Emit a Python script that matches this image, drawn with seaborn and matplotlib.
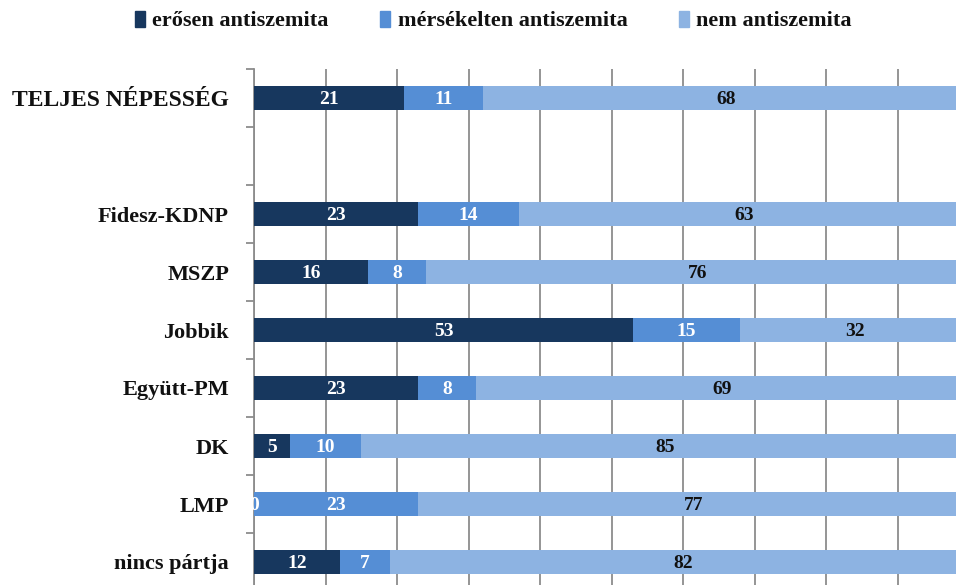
import pandas as pd
import seaborn as sns
import matplotlib.pyplot as plt
from matplotlib.patches import Patch

# Data (percent)
categories = ["TELJES NÉPESSÉG", " ", "Fidesz-KDNP", "MSZP", "Jobbik",
              "Együtt-PM", "DK", "LMP", "nincs pártja"]
strong = [21, None, 23, 16, 53, 23, 5, 0, 12]
moderate = [11, None, 14, 8, 15, 8, 10, 23, 7]
none_ = [68, None, 63, 76, 32, 69, 85, 77, 82]
series_names = ["erősen antiszemita", "mérsékelten antiszemita", "nem antiszemita"]

colors = ["#17375e", "#558ed5", "#8db3e2"]

df = pd.DataFrame({"cat": categories, "strong": strong,
                   "moderate": moderate, "none": none_})
df["c1"] = df["strong"]
df["c2"] = df["strong"] + df["moderate"]
df["c3"] = df["c2"] + df["none"]

sns.set_style("white")
plt.rcParams["font.family"] = ["Liberation Serif", "DejaVu Serif"]
plt.rcParams["font.weight"] = "bold"

fig = plt.figure(figsize=(9.56, 5.85), dpi=100)
# axes runs past the right and bottom edges, like the cropped original
ax = fig.add_axes([254 / 956, 1 - 591 / 585, 715 / 956, 522 / 585])

# stacked bars: draw cumulative totals back to front
for col, color in zip(["c3", "c2", "c1"], colors[::-1]):
    sns.barplot(data=df, x=col, y="cat", order=categories, color=color,
                saturation=1, linewidth=0, width=0.4, orient="h", ax=ax,
                zorder=3)

# value labels
for i, row in df.iterrows():
    if pd.isna(row["strong"]):
        continue
    segs = [(0, row["strong"]), (row["c1"], row["moderate"]), (row["c2"], row["none"])]
    for j, (left, val) in enumerate(segs):
        ax.text(left + val / 2, i + 0.03, f"{int(val)}", ha="center", va="center",
                fontsize=14, fontweight="bold",
                color="white" if j < 2 else "#111111", zorder=5)

ax.set_xlim(0, 100)
ax.set_ylim(len(categories) - 0.5, -0.5)
ax.set_xticks(range(0, 101, 10))
ax.set_xticklabels([])
ax.tick_params(axis="x", length=0)
ax.grid(axis="x", color="#8c8c8c", linewidth=1.3, zorder=0)
ax.grid(axis="y", visible=False)
ax.set_axisbelow(True)

ax.set_yticks(range(len(categories)))
ax.set_yticklabels(categories)
ax.set_yticks([i + 0.5 for i in range(-1, len(categories))], minor=True)
ax.tick_params(axis="y", which="major", length=0, pad=18, labelsize=16)
ax.tick_params(axis="y", which="minor", length=6, width=1.3, color="#8c8c8c",
               direction="out", left=True)
for lab in ax.get_yticklabels():
    lab.set_fontweight("bold")
    lab.set_color("#111111")
    if lab.get_text() == "TELJES NÉPESSÉG":
        lab.set_fontsize(17)

ax.set_xlabel("")
ax.set_ylabel("")
for s in ["top", "right", "bottom"]:
    ax.spines[s].set_visible(False)
ax.spines["left"].set_color("#8c8c8c")
ax.spines["left"].set_linewidth(1.3)

handles = [Patch(color=c, label=n) for c, n in zip(colors, series_names)]
leg = fig.legend(handles=handles, loc="center", bbox_to_anchor=(0.516, 1 - 21 / 585),
                 ncol=3, frameon=False, handlelength=0.45,
                 handleheight=0.75, handletextpad=0.35, columnspacing=2.3,
                 prop={"weight": "bold", "size": 16})
for t in leg.get_texts():
    t.set_color("#111111")

fig.savefig("out.png", dpi=100)
